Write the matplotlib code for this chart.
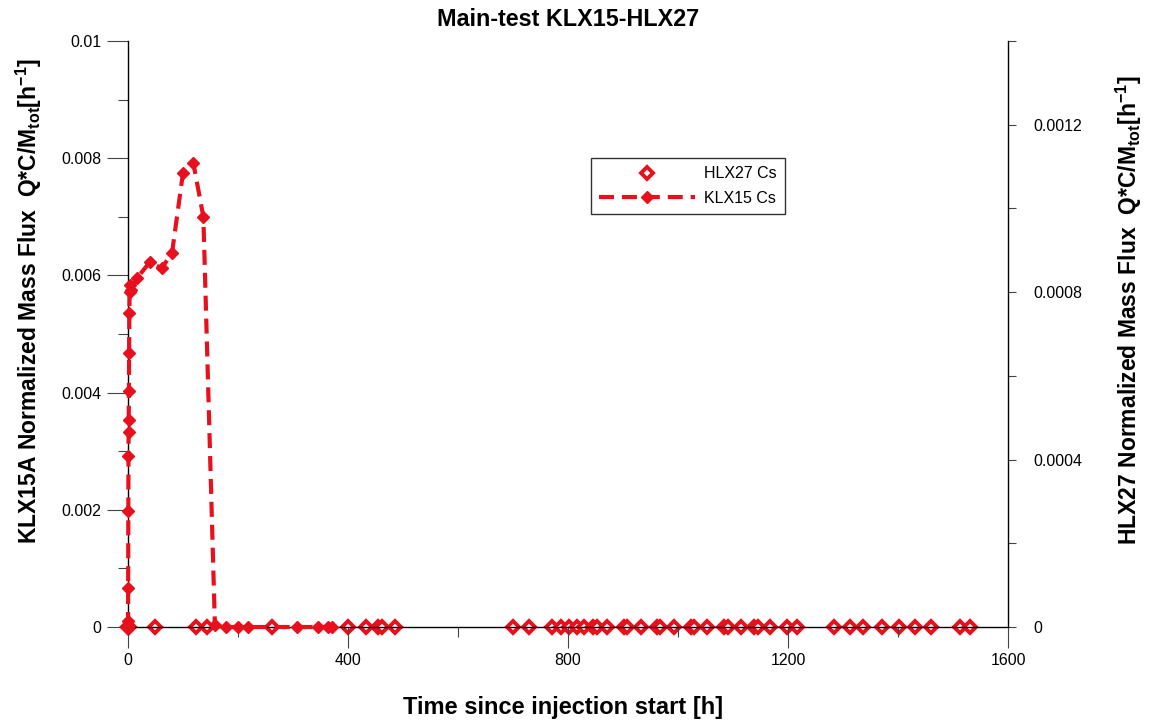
import matplotlib
matplotlib.use("Agg")
import matplotlib.pyplot as plt
from matplotlib.ticker import MultipleLocator, FixedLocator, FixedFormatter

plt.rcParams['font.family'] = ['Liberation Sans', 'DejaVu Sans']

# KLX15 Cs, left axis (normalized mass flux, 1/h)
klx15_t = [0, 0.1, 0.3, 0.6, 0.9, 1.1, 1.3, 1.6, 2.0, 2.4, 3.0, 3.5, 5.5, 16,
           40, 61, 80, 100, 119, 137, 158, 178, 200, 218, 307, 346, 364, 371]
klx15_v = [0, 0.0001, 0.00067, 0.00198, 0.00291, 0.00333, 0.00354, 0.00402,
           0.00467, 0.00535, 0.00572, 0.00584, 0.00575, 0.00595, 0.00623,
           0.00612, 0.00638, 0.00775, 0.00791, 0.00700, 0.00003, 0, 0, 0, 0,
           0, 0, 0]

# HLX27 Cs, right axis (normalized mass flux, 1/h)
hlx27_t = [0, 0.5, 1.5, 49, 124, 143, 261, 400, 432, 455, 462, 485, 700, 729,
           770, 788, 802, 817, 829, 846, 853, 871, 902, 908, 932, 961, 968,
           993, 1023, 1029, 1053, 1084, 1091, 1114, 1138, 1145, 1168, 1199,
           1217, 1284, 1313, 1337, 1371, 1401, 1430, 1460, 1513, 1531]
hlx27_v = [0.0] * len(hlx27_t)

left_ticks = [0, 0.002, 0.004, 0.006, 0.008, 0.01]
left_labels = ["0", "0.002", "0.004", "0.006", "0.008", "0.01"]
right_ticks = [0, 0.0004, 0.0008, 0.0012]
right_labels = ["0", "0.0004", "0.0008", "0.0012"]
x_ticks = [0, 400, 800, 1200, 1600]

red = '#E8101C'

fig = plt.figure(figsize=(11.52, 7.24), dpi=100)
ax = fig.add_axes([128 / 1152, 97 / 724, 880 / 1152, 586 / 724])
ax2 = ax.twinx()

ax.set_xlim(0, 1600)
ax.set_ylim(0, 0.01)
ax2.set_ylim(0, 0.0014)

ln1, = ax.plot(klx15_t, klx15_v, color=red, lw=3.0, ls=(0, (3.6, 1.9)),
               marker='D', ms=6.5, mfc=red, mec=red, mew=1.0, zorder=3,
               clip_on=False, label='KLX15 Cs')
ln2, = ax2.plot(hlx27_t, hlx27_v, ls='none', marker='D', ms=6.0, mfc='white',
                mec=red, mew=2.8, zorder=4, clip_on=False, label='HLX27 Cs')
ax.set_zorder(ax2.get_zorder() + 1)
ax.patch.set_visible(False)

for a in (ax, ax2):
    a.spines['top'].set_visible(False)
    for s in a.spines.values():
        s.set_linewidth(1.0)

ax2.spines['left'].set_visible(False)
ax2.spines['bottom'].set_visible(False)
ax.spines['right'].set_visible(False)

ax.xaxis.set_major_locator(FixedLocator(x_ticks))
ax.xaxis.set_minor_locator(MultipleLocator(200))
ax.yaxis.set_major_locator(FixedLocator(left_ticks))
ax.yaxis.set_major_formatter(FixedFormatter(left_labels))
ax.yaxis.set_minor_locator(MultipleLocator(0.001))
ax2.yaxis.set_major_locator(FixedLocator(right_ticks))
ax2.yaxis.set_major_formatter(FixedFormatter(right_labels))
ax2.yaxis.set_minor_locator(MultipleLocator(0.0002))

ax.tick_params(axis='both', which='major', direction='out', length=15,
               width=0.8, color='#444444', labelsize=11.5, pad=4)
ax.tick_params(axis='both', which='minor', direction='out', length=7.5,
               width=0.8, color='#444444')
ax2.tick_params(axis='y', which='major', direction='out', length=6,
                width=0.8, color='#444444', labelsize=11.5, pad=12)
ax2.tick_params(axis='y', which='minor', direction='out', length=6,
                width=0.8, color='#444444')

ax.set_xlabel('Time since injection start [h]', fontsize=17,
              fontweight='bold')
ax.xaxis.set_label_coords(0.494, -0.117)
ax.set_ylabel(r'KLX15A Normalized Mass Flux  Q*C/M$\mathregular{_{tot}}$[h$\mathregular{^{-1}}$]',
              fontsize=16.5, fontweight='bold')
ax.yaxis.set_label_coords(-0.095, 0.556)
ax2.set_ylabel(r'HLX27 Normalized Mass Flux  Q*C/M$\mathregular{_{tot}}$[h$\mathregular{^{-1}}$]',
               fontsize=16.5, fontweight='bold')
ax2.yaxis.set_label_coords(1.120, 0.541)

title_family = ['Liberation Sans Narrow', 'Liberation Sans', 'DejaVu Sans']
ax.set_title('Main-test KLX15-HLX27', fontsize=16.8, fontweight='bold', pad=11,
             family=title_family)

leg = ax.legend([ln2, ln1], ['HLX27 Cs', 'KLX15 Cs'], loc='upper left',
                bbox_to_anchor=(0.526, 0.80), fontsize=11.5, frameon=True,
                fancybox=False, edgecolor='#333333', framealpha=1,
                handlelength=6.0, borderpad=0.5, labelspacing=0.6,
                handletextpad=0.6, borderaxespad=0)
leg.get_frame().set_linewidth(1.0)

fig.savefig('out.png', dpi=100)
